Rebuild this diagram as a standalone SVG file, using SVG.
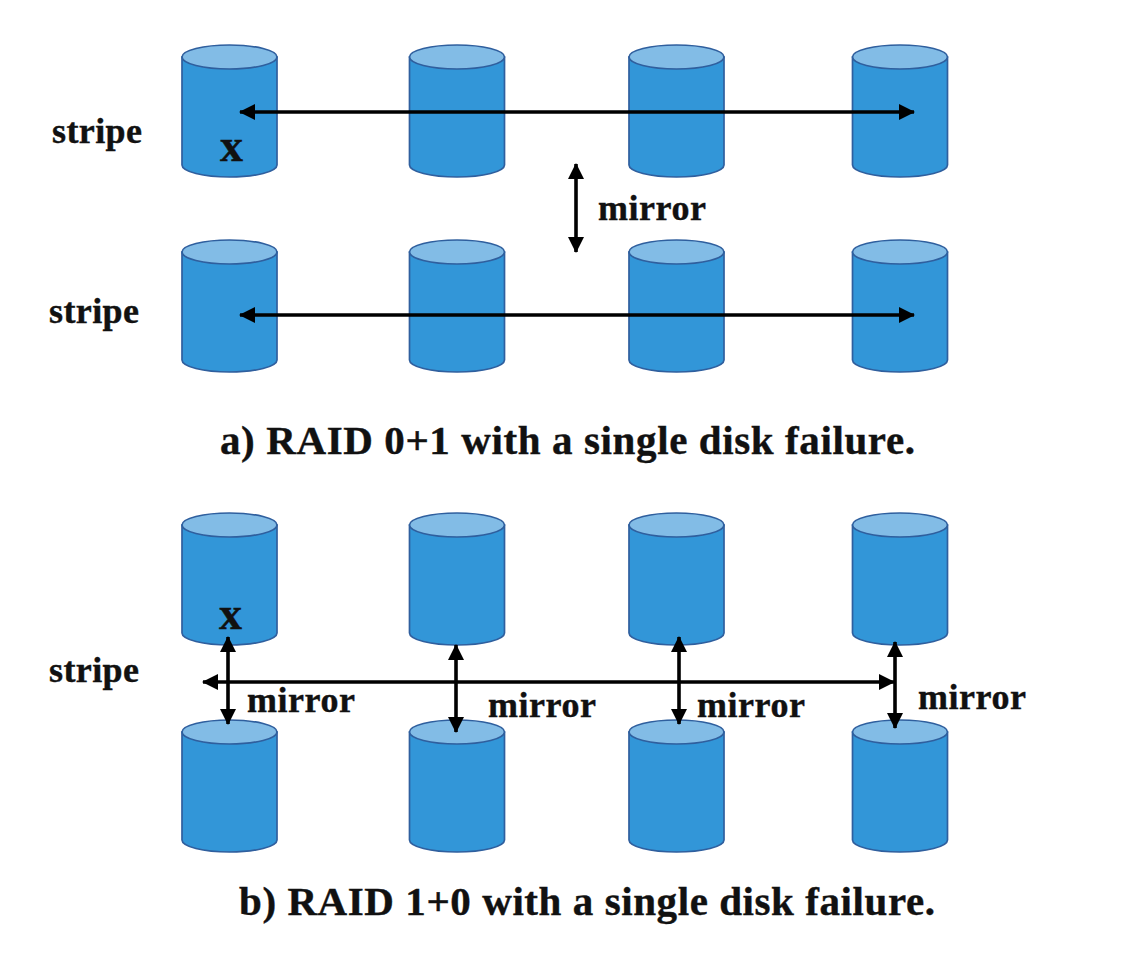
<svg xmlns="http://www.w3.org/2000/svg" width="1142" height="956" viewBox="0 0 1142 956">
<style>
.body{fill:#3296d8;stroke:#2f5f9e;stroke-width:1.7}
.top{fill:#82bce6;stroke:#2f5f9e;stroke-width:1.7}
.t{font-family:"Liberation Serif","Times New Roman",serif;font-weight:bold;fill:#111;stroke:#111;stroke-width:.4}
.l{font-size:36px}
.c{font-size:41px}
.x{font-size:46px}
.a{stroke:#000;stroke-width:3.6;fill:none;marker-start:url(#h);marker-end:url(#h)}
</style>
<defs>
<marker id="h" markerUnits="userSpaceOnUse" viewBox="0 0 16 16" refX="15" refY="8" markerWidth="16" markerHeight="16" orient="auto-start-reverse"><path d="M0 0L16 8L0 16Z" fill="#000"/></marker>
<g id="cyl"><path class="body" d="M0 12V120A47.5 12 0 0 0 95 120V12Z"/><ellipse class="top" cx="47.5" cy="12" rx="47.5" ry="12"/></g>
</defs>
<rect width="1142" height="956" fill="#fff"/>
<g id="disk-a1"><use href="#cyl" x="182" y="45"/></g>
<g id="disk-a2"><use href="#cyl" x="409.500" y="45"/></g>
<g id="disk-a3"><use href="#cyl" x="629" y="45"/></g>
<g id="disk-a4"><use href="#cyl" x="852.500" y="45"/></g>
<g id="disk-a5"><use href="#cyl" x="182" y="240"/></g>
<g id="disk-a6"><use href="#cyl" x="409.500" y="240"/></g>
<g id="disk-a7"><use href="#cyl" x="629" y="240"/></g>
<g id="disk-a8"><use href="#cyl" x="852.500" y="240"/></g>
<g id="disk-b1"><use href="#cyl" x="182" y="513"/></g>
<g id="disk-b2"><use href="#cyl" x="409.500" y="513"/></g>
<g id="disk-b3"><use href="#cyl" x="629" y="513"/></g>
<g id="disk-b4"><use href="#cyl" x="852.500" y="513"/></g>
<g id="disk-b5"><use href="#cyl" x="182" y="720"/></g>
<g id="disk-b6"><use href="#cyl" x="409.500" y="720"/></g>
<g id="disk-b7"><use href="#cyl" x="629" y="720"/></g>
<g id="disk-b8"><use href="#cyl" x="852.500" y="720"/></g>
<g id="connectors">
<path class="a" d="M240 112H914"/>
<path class="a" d="M240 315H914"/>
<path class="a" d="M576 164V252"/>
<path class="a" d="M203 682H894"/>
<path class="a" d="M228 637V724"/>
<path class="a" d="M456 645V732"/>
<path class="a" d="M679 637V724"/>
<path class="a" d="M895 642V728"/>
</g>
<g id="labels">
<text class="t l" x="52" y="143" textLength="90">stripe</text>
<text class="t l" x="49" y="323" textLength="90">stripe</text>
<text class="t l" x="49" y="682" textLength="90">stripe</text>
<text class="t l" x="598" y="220" textLength="108">mirror</text>
<text class="t l" x="247" y="712" textLength="108">mirror</text>
<text class="t l" x="488" y="717" textLength="108">mirror</text>
<text class="t l" x="697" y="717" textLength="108">mirror</text>
<text class="t l" x="918" y="709" textLength="108">mirror</text>
<text class="t x" x="220" y="161">x</text>
<text class="t x" x="219" y="629">x</text>
<text class="t c" x="220" y="454" textLength="695">a) RAID 0+1 with a single disk failure.</text>
<text class="t c" x="239" y="915" textLength="696">b) RAID 1+0 with a single disk failure.</text>
</g>
</svg>
